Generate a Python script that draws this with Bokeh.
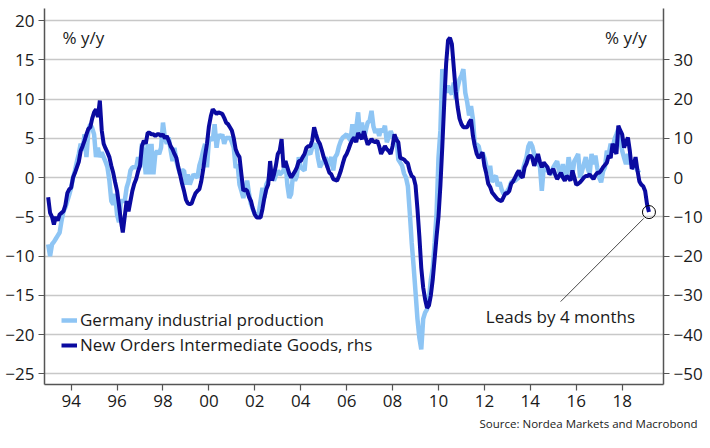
import numpy as np
from bokeh.plotting import figure
from bokeh.models import (Range1d, LinearAxis, FixedTicker, Label, Legend,
                          LegendItem, ColumnDataSource, Title)
from bokeh.embed import file_html
from bokeh.resources import INLINE

# ---------------- data (monthly, starting Jan 1993) ----------------
start_year = 1993

# Germany industrial production, % y/y (left axis)
ip = [
    -8.5, -10.0, -8.5, -8.2, -7.8, -7.4, -7.0, -5.5, -4.3, -3.8, -3.0, -2.2,   # 1993
    -1.3, 0.0, 0.9, 2.0, 3.0, 4.3, 3.4, 5.5, 2.6, 6.0, 6.8, 6.3,               # 1994
    5.5, 2.6, 3.8, 2.6, 3.2, 2.6, 2.0, 1.3, -0.4, -3.0, -3.4, -2.1,            # 1995
    -4.7, -5.7, -3.0, -3.0, -3.0, -1.3, -0.5, 0.9, 1.3, 1.3, 1.3, 2.6,         # 1996
    1.3, 4.3, 3.0, 0.4, 4.3, 0.4, 4.3, 0.4, 3.0, 3.4, 3.0, 3.8,                # 1997
    7.0, 5.1, 4.3, 5.1, 3.5, 2.1, 3.8, 2.1, 1.2, 0.4, 0.9, 0.9,                # 1998
    -0.9, 0.4, -0.9, -0.2, 0.4, 0.2, 0.0, 1.5, 2.3, 3.4, 4.3, 1.3,             # 1999
    4.7, 5.1, 4.7, 6.8, 3.8, 5.5, 5.1, 5.5, 4.3, 5.1, 5.0, 5.1,                # 2000
    4.5, 3.8, 1.2, 1.7, -0.9, -1.7, -2.6, -1.5, -0.4, -2.1, -3.4, -4.0,        # 2001
    -4.7, -4.7, -4.7, -3.0, -1.3, -2.6, -0.9, -0.4, 0.5, 0.9, -0.4, 0.3,       # 2002
    0.9, 0.4, 0.6, 0.9, 2.1, -0.9, -2.6, -2.1, 0.4, -0.4, 0.2, 2.6,            # 2003
    1.3, 1.1, 0.9, 3.4, 3.2, 3.0, 3.8, 4.0, 4.3, 2.5, 1.3, 1.8,                # 2004
    2.1, 2.6, 1.3, 2.0, 2.6, 0.9, 2.6, 3.0, 4.0, 4.7, 5.1, 5.3,                # 2005
    5.5, 5.1, 4.7, 6.8, 5.1, 6.2, 8.3, 5.3, 7.0, 4.9, 6.0, 7.0,                # 2006
    7.2, 8.5, 6.5, 5.7, 6.2, 5.3, 6.2, 5.8, 6.6, 4.5, 5.2, 5.9,                # 2007
    5.3, 4.9, 5.1, 2.3, 1.9, 1.5, 0.5, 0.0, -1.1, -4.5, -8.3, -11.3,           # 2008
    -14.6, -18.0, -20.4, -21.9, -18.0, -17.2, -16.8, -15.5, -13.0, -11.5, -8.3, -4.5,  # 2009
    2.5, 6.0, 13.8, 12.1, 10.8, 11.7, 11.0, 10.6, 12.1, 10.0, 11.5, 12.5,      # 2010
    13.0, 13.8, 10.8, 9.6, 7.9, 9.1, 7.4, 4.2, 4.2, 4.0, 2.8, 3.2,             # 2011
    2.5, 1.5, 0.6, 1.5, -0.6, 0.0, 0.2, -1.1, -0.6, -1.5, -2.1, -2.2,          # 2012
    -1.7, -1.3, -0.6, -0.4, -0.4, -0.2, 0.0, 0.5, 0.9, 1.8, 2.6, 4.0,          # 2013
    4.5, 4.0, 3.0, 1.9, 1.7, 1.5, -1.7, 1.3, 1.1, 0.9, 0.6, 0.4,               # 2014
    1.3, 1.7, 2.1, 0.8, 0.0, 1.7, 0.5, 0.0, 2.6, 1.3, 0.4, 2.1,                # 2015
    2.5, 3.0, 0.0, 0.8, 1.7, 2.6, 1.2, 0.4, 3.0, 1.7, 2.8, 1.2,                # 2016
    0.0, -0.6, 0.8, 1.3, 3.4, 3.0, 4.3, 3.6, 4.9, 5.5, 6.2, 4.7,               # 2017
    3.4, 2.5, 1.7, 3.0, 1.7, 2.1, 1.7, 1.3, 0.9, 0.6,                          # 2018
]

# New Orders Intermediate Goods, % y/y (right axis), shifted 4 months ahead
orders = [
    -5.0, -9.0, -10.0, -12.0, -10.0, -11.0, -9.4, -9.0, -8.6, -7.0, -4.0, -3.0,   # 1993
    -2.6, 0.0, 1.2, 2.6, 4.0, 6.8, 8.0, 9.4, 11.0, 12.4, 12.8, 15.0,            # 1994
    16.6, 17.4, 15.4, 19.6, 12.0, 8.6, 7.4, 6.4, 5.2, 3.0, 1.2, -1.2,           # 1995
    -3.4, -7.0, -11.0, -14.0, -10.0, -6.0, -8.6, -6.0, -3.4, -1.6, -0.4, 1.6,   # 1996
    3.0, 8.0, 9.4, 8.6, 11.4, 11.4, 11.0, 11.0, 10.6, 11.0, 11.0, 10.6,         # 1997
    11.0, 10.0, 10.6, 9.4, 8.0, 7.2, 6.0, 5.0, 2.6, 0.6, -1.6, -3.4,            # 1998
    -5.6, -6.6, -6.8, -6.6, -5.2, -4.0, -3.4, -3.0, -1.0, 2.0, 5.6, 8.6,        # 1999
    13.0, 15.6, 17.4, 16.8, 16.2, 16.6, 16.4, 16.2, 15.2, 14.0, 13.6, 12.8,     # 2000
    12.0, 10.0, 7.2, 6.0, 5.2, 0.8, -3.4, -3.0, -3.4, -5.0, -6.0, -8.0,         # 2001
    -9.4, -10.2, -10.2, -10.2, -8.0, -5.2, -3.0, -1.8, 4.2, -0.8, 0.8, 3.0,     # 2002
    6.0, 6.8, 9.8, 2.6, 4.2, 2.6, 1.0, 0.0, 0.8, 1.6, 2.6, 4.2,                 # 2003
    4.2, 5.2, 6.0, 7.6, 8.0, 8.0, 9.4, 12.8, 11.0, 9.4, 8.6, 7.0,               # 2004
    5.2, 4.0, 2.6, 1.2, 0.8, -0.4, -0.6, -0.8, 0.4, 1.8, 3.6, 5.2,              # 2005
    6.0, 7.2, 8.6, 9.6, 10.2, 9.0, 11.4, 10.4, 9.8, 11.8, 10.0, 8.4,            # 2006
    9.0, 9.8, 9.2, 9.0, 9.4, 8.0, 6.0, 7.0, 8.0, 7.2, 6.8, 6.0,                 # 2007
    8.0, 11.0, 9.6, 9.0, 5.0, 4.8, 4.6, 4.0, 3.6, 1.6, 0.4, 0.0,                # 2008
    -2.0, -8.0, -15.0, -23.0, -28.0, -31.0, -33.2, -32.6, -30.0, -26.0, -20.6, -15.0,  # 2009
    -10.0, -2.0, 8.0, 19.0, 29.0, 35.0, 35.6, 34.0, 28.0, 22.0, 18.0, 15.0,     # 2010
    13.6, 12.8, 12.8, 12.8, 14.0, 14.8, 10.6, 8.0, 6.0, 5.0, 5.6, 6.4,          # 2011
    3.0, 1.0, -1.6, -2.4, -3.8, -4.4, -5.0, -5.6, -5.8, -6.0, -5.0, -4.0,       # 2012
    -4.0, -3.4, -1.6, -1.0, 0.0, 1.0, 1.8, 0.4, 0.0, 2.6, 3.6, 5.2,             # 2013
    5.6, 5.0, 3.0, 4.4, 6.0, 4.0, 2.6, 3.8, 3.2, 2.6, 0.8, 1.6,                 # 2014
    2.2, 0.8, -0.4, 0.4, 1.2, 0.0, -0.8, 0.4, 0.0, -0.8, 1.8, 0.0,              # 2015
    -1.8, -1.6, -1.2, -0.6, 0.0, 0.4, 0.4, 0.8, 0.2, -0.4, 0.6, 1.2,            # 2016
    1.2, 1.8, 2.6, 3.2, 3.8, 5.6, 5.0, 8.6, 7.2, 6.0, 13.2, 12.0,               # 2017
    11.0, 7.6, 9.0, 10.2, 6.8, 2.2, 3.0, 5.2, 1.8, -1.0, -1.8, -2.2,            # 2018
    -3.4, -6.8, -8.8,                                                           # 2019
]

tick_years = [1994, 1996, 1998, 2000, 2002, 2004, 2006, 2008, 2010, 2012, 2014, 2016, 2018]
tick_labels = ["94", "96", "98", "00", "02", "04", "06", "08", "10", "12", "14", "16", "18"]
left_ticks = [-25, -20, -15, -10, -5, 0, 5, 10, 15, 20]
right_ticks = [-50, -40, -30, -20, -10, 0, 10, 20, 30]

label_ip = "Germany industrial production"
label_orders = "New Orders Intermediate Goods, rhs"
unit_text = "% y/y"
note_text = "Leads by 4 months"
source_text = "Source: Nordea Markets and Macrobond"

LIGHT = "#8EC5F4"
DARK = "#0A0AA0"
FONT = "Open Sans"
FS = "17px"
AXIS_COL = "#555555"
TXT = "#1a1a1a"

x_ip = start_year + np.arange(len(ip)) / 12.0
x_or = start_year + np.arange(len(orders)) / 12.0

src_ip = ColumnDataSource(dict(x=x_ip, y=ip))
src_or = ColumnDataSource(dict(x=x_or, y=orders))

p = figure(width=710, height=448, output_backend="svg", toolbar_location=None,
           x_range=Range1d(1992.84, 2019.8), y_range=Range1d(-26.36, 21.53),
           min_border_left=44, min_border_right=47, min_border_top=8,
           min_border_bottom=64)
p.extra_y_ranges = {"rhs": Range1d(-52.72, 43.06)}
p.outline_line_color = None
p.background_fill_color = "white"

# axes styling
p.xaxis.ticker = FixedTicker(ticks=tick_years)
p.xaxis.major_label_overrides = {y: l for y, l in zip(tick_years, tick_labels)}
p.yaxis.ticker = FixedTicker(ticks=left_ticks)

r_axis = LinearAxis(y_range_name="rhs", ticker=FixedTicker(ticks=right_ticks))
p.add_layout(r_axis, "right")

for ax in (p.xaxis[0], p.yaxis[0], r_axis):
    ax.axis_line_color = AXIS_COL
    ax.axis_line_width = 1.5
    ax.major_tick_line_color = AXIS_COL
    ax.major_tick_line_width = 1.2
    ax.major_tick_out = 6
    ax.major_tick_in = 0
    ax.minor_tick_line_color = None
    ax.major_label_text_font = FONT
    ax.major_label_text_font_size = FS
    ax.major_label_text_color = TXT
    ax.major_label_standoff = 4

p.xgrid.grid_line_color = None
p.ygrid.ticker = FixedTicker(ticks=left_ticks)
p.ygrid.grid_line_color = "#c8c8c8"
p.ygrid.grid_line_width = 1.5

# lines
r_ip = p.line("x", "y", source=src_ip, line_color=LIGHT, line_width=4.5)
r_or = p.line("x", "y", source=src_or, line_color=DARK, line_width=4,
              y_range_name="rhs")

# legend
legend = Legend(items=[LegendItem(label=label_ip, renderers=[r_ip]),
                       LegendItem(label=label_orders, renderers=[r_or])],
                location=(17, 28), padding=0, spacing=2, margin=0,
                glyph_width=16, glyph_height=20, label_height=20,
                label_standoff=3,
                label_text_font=FONT, label_text_font_size=FS,
                label_text_color=TXT,
                background_fill_alpha=0, border_line_color=None)
p.add_layout(legend)

# unit labels
p.add_layout(Label(x=1993.62, y=17.85, text=unit_text, text_font=FONT,
                   text_font_size=FS, text_color=TXT, text_baseline="middle"))
p.add_layout(Label(x=2019.07, y=17.85, text=unit_text, text_font=FONT,
                   text_font_size=FS, text_color=TXT, text_baseline="middle",
                   text_align="right"))

# annotation: circle on last point, leader line, note
p.scatter([x_or[-1]], [orders[-1]], y_range_name="rhs", marker="circle", size=13,
          fill_color=None, line_color="black", line_width=1)
p.segment(x0=[2018.94], y0=[-10.4], x1=[2015.32], y1=[-31.6], y_range_name="rhs",
          line_color="#333333", line_width=0.9)
p.add_layout(Label(x=2012.06, y=-17.7, text=note_text, text_font=FONT,
                   text_font_size=FS, text_color=TXT, text_baseline="middle"))

# source
p.add_layout(Title(text=source_text, align="right", offset=-34, standoff=9,
                   text_font=FONT, text_font_size="11.5px",
                   text_font_style="normal", text_color=TXT), "below")

open("out.html", "w").write(file_html(p, INLINE))
